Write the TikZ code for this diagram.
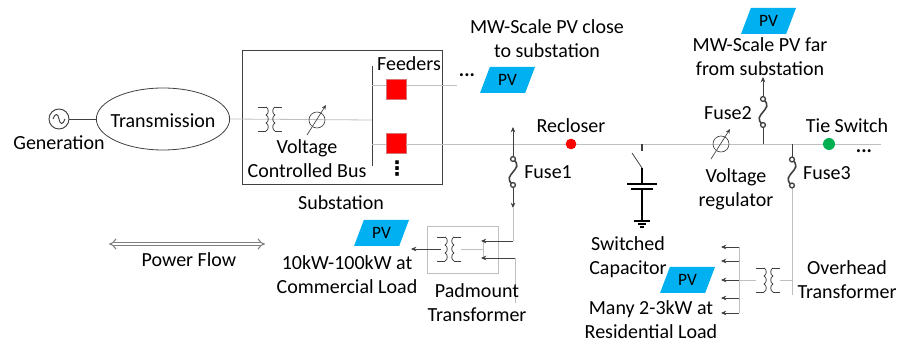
\documentclass[tikz,border=0pt]{standalone}
\usepackage{fontspec}
\setmainfont{Carlito}
\newfontfamily\symfont{DejaVu Sans}
\usetikzlibrary{arrows.meta,shapes.geometric}

\definecolor{pvblue}{HTML}{00B0F0}
\definecolor{wiregray}{HTML}{BFBFBF}
\definecolor{darkwire}{HTML}{404040}
\definecolor{tiegreen}{HTML}{00B050}

\tikzset{
  lbl/.style={align=center,inner sep=0pt,font=\fontsize{15pt}{18pt}\selectfont},
  dotlbl/.style={inner sep=0pt,text height=3pt,text depth=0pt,font=\fontsize{15pt}{18pt}\selectfont\bfseries},
  pvbox/.style={trapezium,trapezium left angle=65,trapezium right angle=115,trapezium stretches=true,
    fill=pvblue,minimum width=41.25pt,minimum height=19.5pt,inner sep=0pt,font=\fontsize{13pt}{14pt}\selectfont},
  feederbox/.style={fill=red,draw=red!40!wiregray,line width=0.4pt,minimum size=15pt,inner sep=0pt},
  wire/.style={wiregray,line width=0.6pt},
  dwire/.style={darkwire,line width=0.6pt},
  tip/.style={darkwire,line width=0.7pt,-{Stealth[length=4pt,width=3.5pt]}},
  coil/.pic={
    \foreach \yy in {-12,-4,4} {
      \draw[darkwire,line width=0.6pt] (-4,\yy) .. controls (-1,\yy+1) and (-1,\yy+7) .. (-4,\yy+8);
      \draw[darkwire,line width=0.6pt] (5,\yy) .. controls (2,\yy+1) and (2,\yy+7) .. (5,\yy+8);
    }
    \draw[darkwire,line width=0.6pt] (-12,-12) -- (-4,-12) (-12,12) -- (-4,12) (5,-12) -- (12,-12) (5,12) -- (12,12);
  },
  fusesym/.pic={
    \draw[darkwire,line width=1.2pt] (0,-13) .. controls (7,-7) and (3,-4) .. (0,0) .. controls (-3,4) and (-7,7) .. (0,13);
    \draw[darkwire,line width=1pt,fill=white] (0,-13) circle (2.4) (0,13) circle (2.4);
  },
  shifter/.pic={
    \draw[darkwire,line width=0.5pt] (0,0) circle (8);
    \draw[darkwire,line width=0.5pt,-{Stealth[length=3.5pt,width=3pt]}] (-10,15) -- (9,-15);
  }
}

\begin{document}
\begin{tikzpicture}[x=0.75pt,y=-0.75pt]
\useasboundingbox (0,0) rectangle (900,345);

% generation and transmission
\node[draw=darkwire,circle,minimum size=15pt,inner sep=0pt,line width=0.7pt] (gen) at (59,119) {};
\draw[darkwire,line width=0.7pt] (53,119) .. controls (55,113) and (58,113) .. (59,119) .. controls (60,125) and (63,125) .. (65,119);
\node[lbl] (genlabel) at (59,143) {Generation};
\node[draw=darkwire,ellipse,minimum width=100pt,minimum height=46.5pt,inner sep=0pt,line width=0.6pt] (trans) at (163,119) {};
\node[lbl] (translabel) at (163,121) {Transmission};
\draw[dwire] (gen) -- (trans);

% substation
\node[draw=darkwire,minimum width=150pt,minimum height=100.5pt,inner sep=0pt,line width=0.7pt] (subst) at (342,117) {};
\node[lbl] (substlabel) at (341,203) {Substation};
\coordinate (bustop) at (372,66);
\coordinate (busbot) at (372,166);
\coordinate (busin) at (372,120);
\coordinate (feedA) at (372,85);
\coordinate (feedAend) at (457,85);
\coordinate (feedB) at (372,144);
\draw[wire] (trans.east) -- (busin);
\draw[dwire] (bustop) -- (busbot);
\pic at (270,119) {coil};
\pic at (317,120) {shifter};
\node[lbl] (vcb) at (307,159) {Voltage\\Controlled Bus};
\node[lbl] (feeders) at (409,64) {Feeders};
\draw[wire] (feedA) -- (feedAend);
\node[feederbox] (brkA) at (396,89) {};
\node[feederbox] (brkB) at (396,143) {};
\node[dotlbl] (dotsA) at (467,75) {...};
\node[lbl] (dotsB) at (397,169) {\symfont\bfseries ⋮};

% PV close to substation
\node[pvbox] (pvclose) at (507.5,80) {PV};
\node[lbl] (pvcloselabel) at (547,39) {MW-Scale PV close\\to substation};

% main feeder
\coordinate (mainend) at (881,144);
\draw[wire] (feedB) -- (brkB.west |- feedB);
\draw[wire] (brkB.east |- feedB) -- (mainend);
\node[circle,fill=red,minimum size=8pt,inner sep=0pt] (recl) at (571,144) {};
\node[lbl] (recllabel) at (571,126) {Recloser};
\node[circle,fill=tiegreen,minimum size=9pt,inner sep=0pt] (tie) at (829,144) {};
\node[lbl] (tielabel) at (847,126) {Tie Switch};
\node[dotlbl] (dotsC) at (864,151) {...};

% fuse 1 and padmount
\coordinate (fAjoin) at (513,144);
\coordinate (fAtop) at (513,127);
\coordinate (fAup) at (513,158);
\coordinate (fAdn) at (513,186);
\coordinate (fAend) at (513,208);
\coordinate (fAbot) at (513,241);
\draw[tip] (fAup) -- (fAtop);
\draw[tip] (fAdn) -- (fAend);
\draw[wire] (fAend) -- (fAbot);
\pic at (513,172) {fusesym};
\node[lbl,anchor=west] (fuseA) at (524,172) {Fuse1};
\node[draw=wiregray,minimum width=53.25pt,minimum height=35.25pt,inner sep=0pt,line width=0.6pt] (pad) at (462.5,249.5) {};
\pic at (449,249) {coil};
\coordinate (padin) at (461,249);
\coordinate (padjoin) at (483,249);
\coordinate (padtop) at (483,241);
\coordinate (padbot) at (483,258);
\coordinate (padB) at (515,258);
\coordinate (padBend) at (515,303);
\coordinate (padout) at (441,249);
\coordinate (padoutend) at (411,249);
\draw[wire] (padin) -- (padjoin) (padtop) -- (padbot);
\draw[tip] (fAbot) -- (481,241);
\draw[tip] (padB) -- (481,258);
\draw[wire] (padB) -- (padBend);
\draw[tip] (padout) -- (padoutend);
\node[pvbox] (pvcomm) at (381.5,233) {PV};
\node[lbl] (commlabel) at (347,275) {10kW-100kW at\\Commercial Load};
\node[lbl] (padlabel) at (477,303) {Padmount\\Transformer};

% power flow
\coordinate (flowA) at (109,244);
\coordinate (flowB) at (265,244);
\draw[gray,double=white,double distance=2pt,line width=0.8pt,{Implies}-{Implies}] (flowA) -- (flowB);
\node[lbl] (flowlabel) at (189,260) {Power Flow};

% switched capacitor
\coordinate (swtop) at (642,144);
\coordinate (swfix) at (642,151);
\coordinate (swopen) at (632,153);
\coordinate (swpiv) at (642,168);
\coordinate (plateA) at (642,184);
\coordinate (plateB) at (642,189);
\coordinate (gnd) at (642,221);
\draw[dwire,line width=1pt] (swtop) -- (swfix);
\draw[dwire] (swopen) -- (swpiv);
\draw[black,line width=1.1pt] (swpiv) -- (plateA);
\draw[black,line width=1.1pt] (plateB) -- (gnd);
\draw[black,line width=1.2pt] (627,184) -- (657,184);
\draw[black,line width=1.2pt] (631,189) -- (653,189);
\draw[black,line width=0.8pt] (634,221) -- (650,221) (638,224) -- (646,224) (640,227) -- (644,227);
\node[lbl] (caplabel) at (628,257.5) {Switched\\Capacitor};

% regulator and fuse 2
\pic at (721,144) {shifter};
\node[lbl] (reglabel) at (736,189) {Voltage\\regulator};
\coordinate (fBjoin) at (763,144);
\coordinate (fBdn) at (763,125);
\coordinate (fBup) at (763,99);
\coordinate (fBend) at (763,77);
\draw[dwire] (fBjoin) -- (fBdn);
\draw[tip] (fBup) -- (fBend);
\pic at (763,112) {fusesym};
\node[lbl] (fuseB) at (728,113) {Fuse2};
\node[pvbox] (pvfar) at (768.5,21) {PV};
\node[lbl] (pvfarlabel) at (760,57) {MW-Scale PV far\\from substation};

% fuse 3 and overhead transformer
\coordinate (fCjoin) at (792,144);
\coordinate (fCup) at (792,158);
\coordinate (fCdn) at (792,187);
\coordinate (fCend) at (792,295);
\coordinate (ohin) at (792,280);
\coordinate (ohcoilR) at (780,280);
\coordinate (ohcoilL) at (756,280);
\coordinate (ohjoin) at (739,280);
\draw[dwire] (fCjoin) -- (fCup);
\draw[wire] (fCdn) -- (fCend);
\pic at (792,172.5) {fusesym};
\node[lbl] (fuseC) at (827,173) {Fuse3};
\draw[wire] (ohin) -- (ohcoilR) (ohcoilL) -- (ohjoin);
\pic at (768,280) {coil};
\coordinate (ohtop) at (739,247);
\coordinate (ohbot) at (739,313);
\draw[wire] (ohtop) -- (ohbot);
\foreach \yy in {247,261,280,298,313} {
  \draw[tip] (739,\yy) -- (721,\yy);
}
\node[pvbox] (pvres) at (687.5,280) {PV};
\node[lbl] (oilabel) at (847,279.5) {Overhead\\Transformer};
\node[lbl] (reslabel) at (651,320) {Many 2-3kW at\\Residential Load};
\end{tikzpicture}
\end{document}
